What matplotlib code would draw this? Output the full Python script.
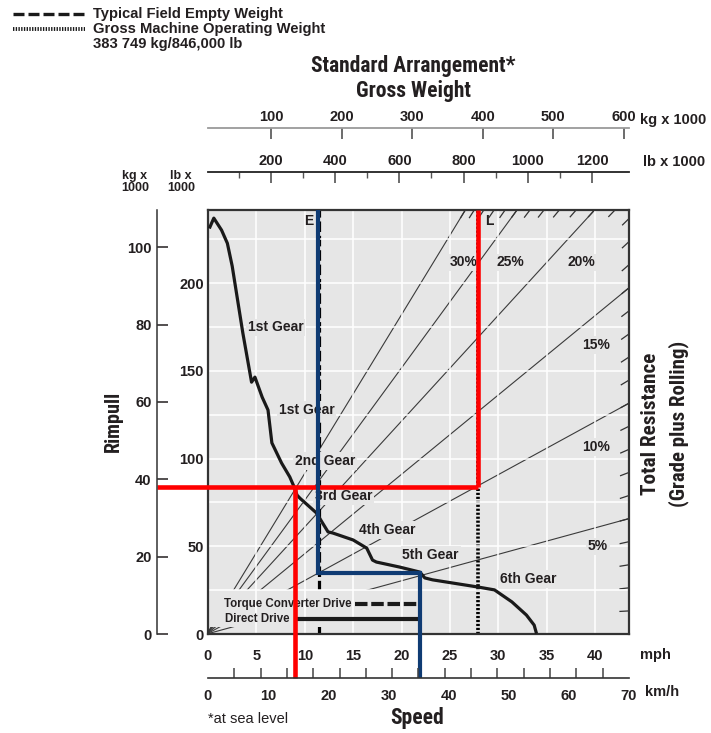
import numpy as np
import matplotlib
matplotlib.use('Agg')
import matplotlib.pyplot as plt
from matplotlib import font_manager as fm
from matplotlib.patches import Rectangle

# rimpull curve: speed (mph) vs rimpull (kg x 1000)
speed_mph = [0.2, 0.6, 1.4, 2.0, 2.5, 3.6, 4.5, 4.85, 5.6, 6.2, 6.6, 7.6, 8.45, 8.9, 9.2, 9.5,
             11.2, 12.4, 12.9, 15.0, 16.4, 17.0, 17.4, 19.8, 21.9, 22.4, 23.2, 28.0, 29.6,
             31.4, 32.9, 33.7, 33.9]
rimpull_t = [105.2, 107.5, 104.4, 101.0, 95.1, 77.8, 65.1, 66.4, 61.2, 57.9, 49.4, 44.2, 40.6,
             38.0, 35.9, 35.1, 31.3, 26.4, 26.1, 24.3, 22.2, 19.1, 18.6, 17.3, 16.0, 14.5,
             14.0, 12.1, 11.4, 8.3, 4.9, 2.3, 0.5]

grades = [5, 10, 15, 20, 25, 30]          # labelled total resistance lines (%)
grade_ticks = list(range(1, 31))          # small hash marks at every 1 %

empty_klb = 350      # typical field empty weight (E)
gmw_klb = 846        # gross machine operating weight (L)

# worked examples drawn on the chart
red_rimpull, red_speed = 38.0, 8.97
blue_rimpull, blue_speed = 15.8, 21.86

mph_ticks = [0, 5, 10, 15, 20, 25, 30, 35, 40]
kmh_ticks = [0, 10, 20, 30, 40, 50, 60, 70]
kg_w_ticks = [100, 200, 300, 400, 500, 600]
lb_w_ticks = [200, 400, 600, 800, 1000, 1200]
lb_w_minor = [100, 300, 500, 700, 900, 1100]
rim_kg_ticks = [0, 20, 40, 60, 80, 100]
rim_lb_ticks = [0, 50, 100, 150, 200]
rim_lb_grid = [25, 75, 125, 175, 225]

KG_PER_LB = 0.4536
MPH_TO_KMH = 1.609344

TXT = '#231f20'
BG = '#e6e6e6'
plt.rcParams['font.family'] = ['Liberation Sans', 'DejaVu Sans']
plt.rcParams['text.color'] = TXT
plt.rcParams['xtick.color'] = TXT
plt.rcParams['ytick.color'] = TXT

# condensed face for the headings if one is installed, else shrink the regular one
installed = {f.name for f in fm.fontManager.ttflist}
NARROW, NS = ['Liberation Sans', 'DejaVu Sans'], 0.86
for cand in ['Liberation Sans Narrow', 'Roboto Condensed', 'Open Sans Condensed',
             'Arial Narrow']:
    if cand in installed:
        NARROW, NS = [cand, 'DejaVu Sans'], 1.0
        break

W, H = 711, 733
fig = plt.figure(figsize=(W / 100, H / 100), dpi=100)

def fx(px):
    return px / W

def fy(py):
    return 1 - py / H

L_PX, R_PX, T_PX, B_PX = 208, 629, 210, 634
PW, PH = (R_PX - L_PX) / W, (B_PX - T_PX) / H
XMAX, YMAX = 43.5, 109.6
SX, SY = (R_PX - L_PX) / XMAX, (B_PX - T_PX) / YMAX   # px per unit

# weight scales aligned with the plot box
LB0, LB1 = 3.7, 1315.3
KG0, KG1 = 10.8, 607.1

def w2mph(w):
    return (np.asarray(w, dtype=float) - LB0) / (LB1 - LB0) * XMAX

ax = fig.add_axes([fx(L_PX), fy(B_PX), PW, PH])
ax.set_facecolor(BG)
ax.set_xlim(0, XMAX)
ax.set_ylim(0, YMAX)
ax.set_axisbelow(True)
for s in ax.spines.values():
    s.set_color('#333333')
    s.set_linewidth(1.6)

ax.set_xticks(mph_ticks)
ax.set_xticklabels([str(v) for v in mph_ticks], fontsize=10.5, fontweight='bold')
ax.set_yticks([v * KG_PER_LB for v in rim_lb_ticks])
ax.set_yticklabels([str(v) for v in rim_lb_ticks], fontsize=10.5, fontweight='bold')
ax.set_yticks([v * KG_PER_LB for v in rim_lb_grid], minor=True)
ax.tick_params(axis='x', length=0, pad=11)
ax.tick_params(axis='y', which='both', length=0, pad=3)
ax.grid(True, which='both', color='white', linewidth=1.1)

# total resistance lines: rimpull = grade x gross weight
w_line = np.array([0.0, LB1 * 1.2])
for p in grades:
    ax.plot(w2mph(w_line), p / 100 * KG_PER_LB * w_line, color='#3a3a3a', lw=0.8, zorder=0.2)

# hash marks where each 1 % line meets the frame
for p in grade_ticks:
    k = p / 100 * KG_PER_LB
    w_end = min(YMAX / k, LB1)
    xe, ye = float(w2mph(w_end)), k * w_end
    x0 = float(w2mph(0))
    dx, dy = (xe - x0) * SX, ye * SY
    n = np.hypot(dx, dy)
    ax.plot([xe - 9 * dx / n / SX, xe], [ye - 9 * dy / n / SY, ye],
            color='#333333', lw=0.9, zorder=0.3, clip_on=False)

# empty (E) and loaded (L) weight lines
ax.plot(w2mph([empty_klb, empty_klb]), [0, YMAX], color='black', lw=2.3,
        dashes=(3.3, 1.2), zorder=0.3)
ax.plot(w2mph([gmw_klb, gmw_klb]), [0, YMAX], color='black', lw=2.6,
        dashes=(0.6, 0.5), zorder=0.3)

# drive legend box (hides resistance lines)
ax.add_patch(Rectangle((0, 1.8), blue_speed - 0.3, rim_lb_grid[0] * KG_PER_LB - 1.8,
                       facecolor=BG, edgecolor='none', zorder=0.4))
ax.text(1.65, 7.75, 'Torque Converter Drive', fontsize=8.3, fontweight='bold',
        va='center', ha='left', zorder=3)
ax.text(1.75, 3.9, 'Direct Drive', fontsize=8.3, fontweight='bold',
        va='center', ha='left', zorder=3)
ax.plot([15.2, blue_speed - 0.2], [7.75, 7.75], color='#1a1a1a', lw=3.0,
        dashes=(3.0, 0.9), solid_capstyle='butt', zorder=3)
ax.plot([9.2, blue_speed - 0.2], [3.9, 3.9], color='#1a1a1a', lw=3.0,
        solid_capstyle='butt', zorder=3)

# rimpull curve
ax.plot(speed_mph, rimpull_t, color='#1a1a1a', lw=2.3, zorder=3,
        solid_joinstyle='round')

box = dict(boxstyle='square,pad=0.12', fc=BG, ec='none')
labels = [('1st Gear', 7.0, 79.3), ('1st Gear', 10.2, 57.9), ('2nd Gear', 12.06, 44.7),
          ('3rd Gear', 14.0, 35.7), ('4th Gear', 18.56, 26.9), ('5th Gear', 23.0, 20.4),
          ('6th Gear', 33.1, 14.2), ('30%', 26.4, 96.1), ('25%', 31.2, 96.1),
          ('20%', 38.56, 96.1), ('15%', 40.1, 74.7), ('10%', 40.1, 48.3), ('5%', 40.3, 22.7)]
for t, x, y in labels:
    ax.text(x, y, t, fontsize=10, fontweight='bold', ha='center', va='center',
            bbox=box, zorder=4)
ax.text(float(w2mph(empty_klb)) - 0.55, 106.7, 'E', fontsize=10, fontweight='bold',
        ha='right', va='center', zorder=4)
ax.text(float(w2mph(gmw_klb)) + 0.7, 106.7, 'L', fontsize=10, fontweight='bold',
        ha='left', va='center', zorder=4)

# helper axes positions (in data units of the main axes)
KGY_PX, KMH_PX = 157, 678
x_kg_axis = (KGY_PX - L_PX) / SX
y_kmh_axis = -(KMH_PX - B_PX) / SY

red = '#ff0000'
blue = '#0f3b73'
e_mph = float(w2mph(empty_klb))
l_mph = float(w2mph(gmw_klb))
ax.plot([x_kg_axis, l_mph], [red_rimpull, red_rimpull], color=red, lw=3.3,
        solid_capstyle='butt', zorder=5, clip_on=False)
ax.plot([l_mph, l_mph], [red_rimpull, YMAX], color=red, lw=3.3,
        solid_capstyle='butt', zorder=5, clip_on=False)
ax.plot([red_speed, red_speed], [red_rimpull, y_kmh_axis], color=red, lw=3.3,
        solid_capstyle='butt', zorder=5, clip_on=False)
ax.plot([e_mph - 0.08, e_mph - 0.08, blue_speed, blue_speed],
        [YMAX, blue_rimpull, blue_rimpull, y_kmh_axis], color=blue, lw=3.0,
        solid_joinstyle='miter', solid_capstyle='butt', zorder=5, clip_on=False)

# left kg rimpull axis
ay = fig.add_axes([fx(KGY_PX), fy(B_PX), 0.01, PH])
ay.set_facecolor('none')
ay.set_ylim(0, YMAX)
ay.set_xticks([])
for k in ['top', 'right', 'bottom']:
    ay.spines[k].set_visible(False)
ay.spines['left'].set_color('#333333')
ay.spines['left'].set_linewidth(1.1)
ay.set_yticks(rim_kg_ticks)
ay.set_yticklabels([str(v) for v in rim_kg_ticks], fontsize=10.5, fontweight='bold')
ay.tick_params(axis='y', direction='in', length=8, width=1.1, pad=4)

# top weight axes
def top_axis(py, lims, major, minor=None, line='#333333'):
    a = fig.add_axes([fx(L_PX), fy(py) - 0.01, PW, 0.01])
    a.set_facecolor('none')
    a.set_xlim(*lims)
    a.set_yticks([])
    for k in ['left', 'right', 'bottom']:
        a.spines[k].set_visible(False)
    a.spines['top'].set_color(line)
    a.spines['top'].set_linewidth(1.3)
    a.xaxis.tick_top()
    a.set_xticks(major)
    a.set_xticklabels([str(v) for v in major], fontsize=10.5, fontweight='bold')
    a.tick_params(axis='x', direction='in', length=8, width=1.1, pad=3, color='#444444')
    if minor is not None:
        a.set_xticks(minor, minor=True)
        a.tick_params(axis='x', which='minor', direction='in', length=4.5, width=1.0,
                      color='#555555')
    return a

top_axis(128, (KG0, KG1), kg_w_ticks, line='#9a9a9a')
top_axis(172, (LB0, LB1), lb_w_ticks, lb_w_minor, line='#222222')

# km/h axis
ak = fig.add_axes([fx(L_PX), fy(KMH_PX), PW, 0.01])
ak.set_facecolor('none')
ak.set_xlim(0, XMAX * MPH_TO_KMH)
ak.set_yticks([])
for k in ['left', 'right', 'top']:
    ak.spines[k].set_visible(False)
ak.spines['bottom'].set_color('#333333')
ak.spines['bottom'].set_linewidth(1.2)
ak.set_xticks(kmh_ticks)
ak.set_xticklabels([str(v) for v in kmh_ticks], fontsize=10.5, fontweight='bold')
ak.set_xticks(np.linspace(0, 70, 17), minor=True)
ak.tick_params(axis='x', which='major', length=0, pad=8)
ak.tick_params(axis='x', which='minor', direction='in', length=7, width=1.1, color='#444444')

# figure texts
fig.text(fx(413), fy(66), 'Standard Arrangement*', ha='center', va='center',
         fontsize=15.5 * NS, fontweight='bold', family=NARROW)
fig.text(fx(413), fy(91), 'Gross Weight', ha='center', va='center',
         fontsize=15.5 * NS, fontweight='bold', family=NARROW)
fig.text(fx(640), fy(120), 'kg x 1000', ha='left', va='center', fontsize=10.5,
         fontweight='bold')
fig.text(fx(643), fy(162), 'lb x 1000', ha='left', va='center', fontsize=10.5,
         fontweight='bold')
fig.text(fx(135), fy(182), 'kg x\n1000', ha='center', va='center', fontsize=9,
         fontweight='bold', linespacing=0.95)
fig.text(fx(181), fy(182), 'lb x\n1000', ha='center', va='center', fontsize=9,
         fontweight='bold', linespacing=0.95)
fig.text(fx(113), fy(421), 'Rimpull', ha='center', va='center', rotation=90,
         fontsize=14.5 * NS, fontweight='bold', family=NARROW)
fig.text(fx(651), fy(424), 'Total Resistance', ha='center', va='center', rotation=90,
         fontsize=15.3 * NS, fontweight='bold', family=NARROW)
fig.text(fx(679), fy(424), '(Grade plus Rolling)', ha='center', va='center', rotation=90,
         fontsize=15 * NS, fontweight='bold', family=NARROW)
fig.text(fx(640), fy(655), 'mph', ha='left', va='center', fontsize=10.5, fontweight='bold')
fig.text(fx(645), fy(692), 'km/h', ha='left', va='center', fontsize=10.5, fontweight='bold')
fig.text(fx(417), fy(718), 'Speed', ha='center', va='center', fontsize=15.5 * NS,
         fontweight='bold', family=NARROW)
fig.text(fx(208), fy(719), '*at sea level', ha='left', va='center', fontsize=10.5)

# legend at top left
lg = fig.add_axes([0, 0, 1, 1])
lg.set_xlim(0, W)
lg.set_ylim(H, 0)
lg.axis('off')
lg.plot([13, 85], [14, 14], color='#1a1a1a', lw=2.4, dashes=(3.3, 1.2))
lg.plot([13, 85], [29, 29], color='#1a1a1a', lw=2.8, dashes=(0.35, 0.35))
lg.text(93, 14, 'Typical Field Empty Weight', fontsize=10.6, fontweight='bold', va='center')
lg.text(93, 29, 'Gross Machine Operating Weight', fontsize=10.6, fontweight='bold', va='center')
lg.text(93, 44, '383 749 kg/846,000 lb', fontsize=10.6, fontweight='bold', va='center')

fig.savefig('out.png', dpi=100)
